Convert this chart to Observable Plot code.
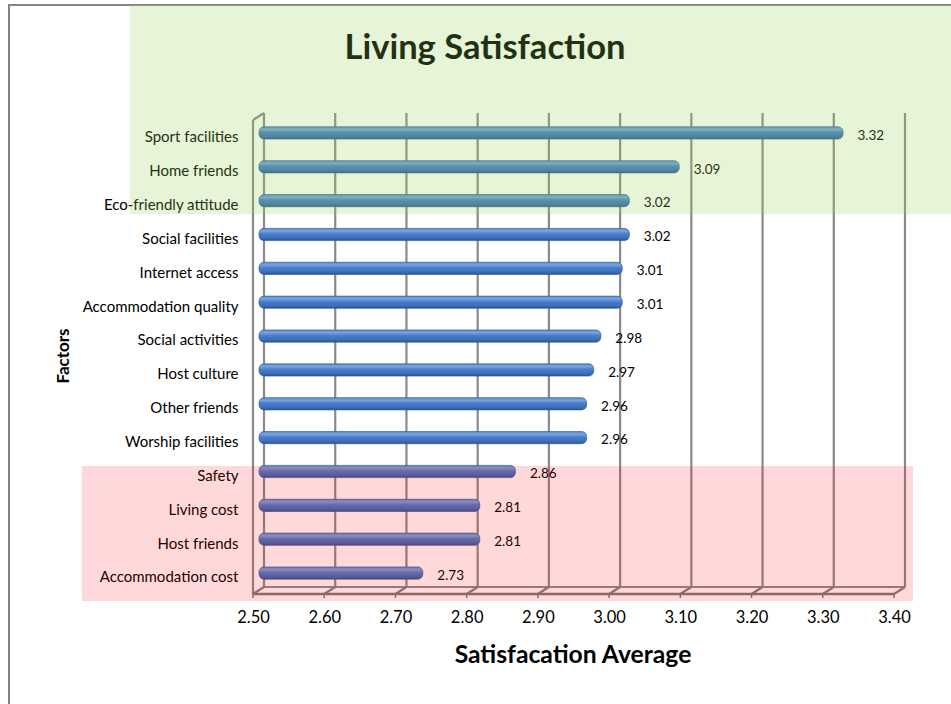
<!DOCTYPE html>
<html>
<head>
<meta charset="utf-8">
<script src="https://cdn.jsdelivr.net/npm/d3@7"></script>
<script src="https://cdn.jsdelivr.net/npm/@observablehq/plot@0.6"></script>
<style>
  html, body { margin: 0; padding: 0; background: #ffffff; }
  #wrap { position: relative; width: 951px; height: 704px; overflow: hidden; background: #ffffff; font-family: Lato, "Open Sans", sans-serif; }
  #chart { position: absolute; left: 0; top: 0; }
  .lbl { position: absolute; line-height: 1; white-space: nowrap; color: #000; font-weight: 700; font-family: Lato, "Open Sans", sans-serif; }
  .ov { position: absolute; pointer-events: none; }
  #frame { position: absolute; left: 8px; top: 4px; width: 1100px; height: 900px; border-left: 2px solid #848484; border-top: 2px solid #848484; }
</style>
</head>
<body>
<div id="wrap">
  <div id="frame"></div>
  <div id="chart"></div>
  <div class="lbl" id="title" style="left:485px; top:29px; font-size:34.5px; transform:translateX(-50%);"></div>
  <div class="lbl" id="xtitle" style="left:573px; top:642px; font-size:24.7px; transform:translateX(-50%);"></div>
  <div class="lbl" id="ytitle" style="left:62px; top:356px; font-size:17px; transform:translate(-50%,-50%) rotate(-90deg);"></div>
  <div class="ov" style="left:130px; top:5px; width:830px; height:209px; background:rgba(146,208,80,0.23);"></div>
  <div class="ov" style="left:82px; top:466px; width:831px; height:135px; background:rgba(255,0,0,0.15);"></div>
</div>
<script>
// ---- data ----
const titleText = "Living Satisfaction";
const xAxisTitle = "Satisfacation Average";
const yAxisTitle = "Factors";
const factors = [
  "Sport facilities", "Home friends", "Eco-friendly attitude", "Social facilities",
  "Internet access", "Accommodation quality", "Social activities", "Host culture",
  "Other friends", "Worship facilities", "Safety", "Living cost", "Host friends",
  "Accommodation cost"
];
const averages = [3.32, 3.09, 3.02, 3.02, 3.01, 3.01, 2.98, 2.97, 2.96, 2.96, 2.86, 2.81, 2.81, 2.73];
const xTicks = [2.5, 2.6, 2.7, 2.8, 2.9, 3.0, 3.1, 3.2, 3.3, 3.4];

const rows = factors.map((f, i) => ({factor: f, avg: averages[i]}));

document.getElementById("title").textContent = titleText;
document.getElementById("xtitle").textContent = xAxisTitle;
document.getElementById("ytitle").textContent = yAxisTitle;

// 3D wall / floor scaffolding drawn from the x scale
const depthX = 11, depthY = -7;
function scaffold(index, scales, values, dims) {
  const x = scales.x;
  const top = dims.marginTop;
  const bottom = dims.height - dims.marginBottom;
  const g = d3.create("svg:g");
  const defs = g.append("defs");
  const grad = defs.append("linearGradient").attr("id", "barGrad")
    .attr("x1", 0).attr("y1", 0).attr("x2", 0).attr("y2", 1);
  [[0, "#5b8cd0"], [0.22, "#78a3df"], [0.45, "#4b7fcb"], [0.8, "#3d6db5"], [1, "#2c548f"]]
    .forEach(([o, c]) => grad.append("stop").attr("offset", o).attr("stop-color", c));
  const grid = "#8a8a8a";
  const x0 = x(xTicks[0]), x1 = x(xTicks[xTicks.length - 1]);
  // back vertical gridlines
  g.append("g").selectAll("line").data(xTicks).join("line")
    .attr("x1", d => x(d) + depthX).attr("x2", d => x(d) + depthX)
    .attr("y1", top + depthY).attr("y2", bottom + depthY)
    .attr("stroke", grid).attr("stroke-width", 2.2);
  // left wall front edge + top diagonal
  g.append("line").attr("x1", x0).attr("x2", x0).attr("y1", top).attr("y2", bottom)
    .attr("stroke", grid).attr("stroke-width", 2.2);
  g.append("line").attr("x1", x0).attr("x2", x0 + depthX).attr("y1", top).attr("y2", top + depthY)
    .attr("stroke", grid).attr("stroke-width", 2.2);
  // floor
  g.append("line").attr("x1", x0 + depthX).attr("x2", x1 + depthX).attr("y1", bottom + depthY).attr("y2", bottom + depthY)
    .attr("stroke", "#8c8c8c").attr("stroke-width", 2.2);
  g.append("g").selectAll("line").data(xTicks).join("line")
    .attr("x1", d => x(d)).attr("x2", d => x(d) + depthX)
    .attr("y1", bottom).attr("y2", bottom + depthY)
    .attr("stroke", "#808080").attr("stroke-width", 2.2);
  g.append("line").attr("x1", x0).attr("x2", x1).attr("y1", bottom).attr("y2", bottom)
    .attr("stroke", "#7a7a7a").attr("stroke-width", 2.6);
  // tick stubs
  g.append("g").selectAll("line").data(xTicks).join("line")
    .attr("x1", d => x(d)).attr("x2", d => x(d))
    .attr("y1", bottom).attr("y2", bottom + 4)
    .attr("stroke", "#7a7a7a").attr("stroke-width", 1.5);
  return g.node();
}

const chart = Plot.plot({
  width: 951,
  height: 704,
  marginLeft: 253,
  marginRight: 57,
  marginTop: 120,
  marginBottom: 110,
  style: {background: "transparent", fontFamily: "Lato, 'Open Sans', sans-serif", color: "#000"},
  x: {domain: [xTicks[0], xTicks[xTicks.length - 1]], axis: null},
  y: {type: "band", domain: factors, paddingInner: 0.64, paddingOuter: 0.32, align: 0.5, round: false, axis: null},
  marks: [
    scaffold,
    Plot.barX(rows, {
      y: "factor", x1: () => xTicks[0], x2: "avg",
      fill: "url(#barGrad)", stroke: "#345d98", strokeWidth: 0.7,
      rx: 5, dx: 6, dy: -4
    }),
    Plot.text(rows, {
      x: "avg", y: "factor", text: d => d.avg.toFixed(2),
      textAnchor: "start", dx: 20, dy: -2, fontSize: 13.5, fill: "#000"
    }),
    Plot.text(rows, {
      y: "factor", text: "factor", frameAnchor: "left",
      textAnchor: "end", dx: -15, fontSize: 15, fill: "#000"
    }),
    Plot.text(xTicks, {
      x: d => d, text: d => d.toFixed(2), frameAnchor: "bottom",
      dy: 28, fontSize: 16.5, fill: "#000"
    })
  ]
});
document.getElementById("chart").appendChild(chart);
</script>
</body>
</html>
